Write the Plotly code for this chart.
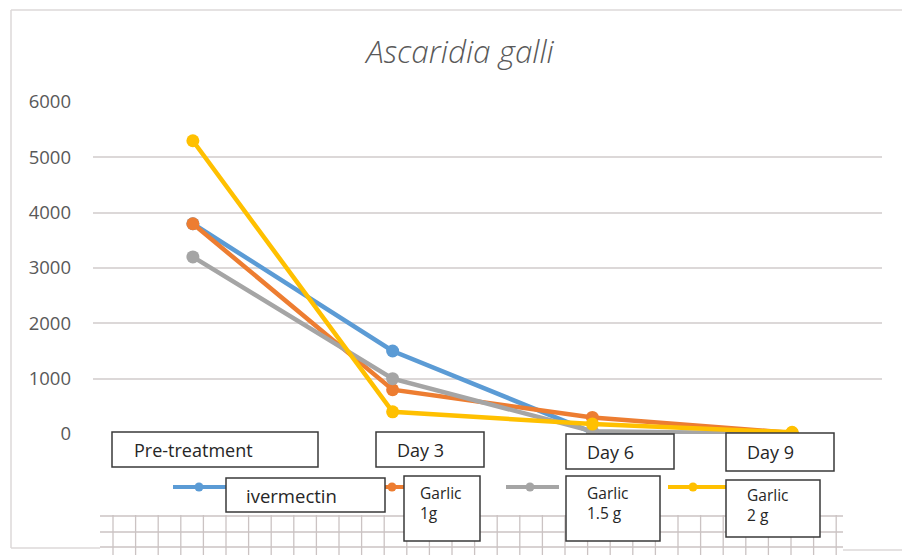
import plotly.graph_objects as go

# ---------------- data ----------------
categories = ["Pre-treatment", "Day 3", "Day 6", "Day 9"]
series_names = ["ivermectin", "Garlic 1g", "Garlic 1.5 g", "Garlic 2 g"]
ivermectin = [3800, 1500, 30, 0]
garlic_1g = [3800, 800, 300, 20]
garlic_1_5g = [3200, 1000, 50, 0]
garlic_2g = [5300, 400, 180, 30]
y_ticks = [0, 1000, 2000, 3000, 4000, 5000, 6000]
title_text = "Ascaridia galli"
legend_labels = ["ivermectin", "Garlic<br>1g", "Garlic<br>1.5 g", "Garlic<br>2 g"]

colors = ["#5B9BD5", "#ED7D31", "#A5A5A5", "#FFC000"]
values = [ivermectin, garlic_1g, garlic_1_5g, garlic_2g]

W, H = 902, 555
FONT = "Open Sans"


def px(x):
    return x / W


def py(y):
    return 1 - y / H


fig = go.Figure()
for name, vals, col in zip(series_names, values, colors):
    fig.add_trace(go.Scatter(
        x=categories, y=vals, name=name, mode="lines+markers",
        line=dict(color=col, width=4.5),
        marker=dict(color=col, size=13),
        showlegend=False, cliponaxis=False,
    ))

shapes = []
annotations = []

# outer chart frame (partial, as in reference)
frame_col = "#dcd8d8"
for (x0, y0, x1, y1) in [(11, 10, 11, 548), (11, 10, 902, 10), (11, 548, 100, 548), (843, 550, 902, 550)]:
    shapes.append(dict(type="line", xref="paper", yref="paper", x0=px(x0), x1=px(x1), y0=py(y0), y1=py(y1),
                       line=dict(color=frame_col, width=1.5)))

# decorative table grid at the bottom
grid_col = "#cbc3c3"
gx0, gx1, gy0, gy1 = 100, 843, 515, 555
for yy in [516, 532, 547]:
    shapes.append(dict(type="line", xref="paper", yref="paper", x0=px(gx0), x1=px(gx1), y0=py(yy), y1=py(yy),
                       line=dict(color=grid_col, width=1.3), layer="above"))
for i in range(33):
    xx = 113 + i * 22.6
    shapes.append(dict(type="line", xref="paper", yref="paper", x0=px(xx), x1=px(xx), y0=py(gy0), y1=py(gy1),
                       line=dict(color=grid_col, width=1.3), layer="above"))

# legend line samples
leg_y = 487
leg_segments = [(173, 226, 199), (385, 404, 392), (506, 559, 530), (668, 726, 693)]
for (a, b, m), col in zip(leg_segments, colors):
    shapes.append(dict(type="line", xref="paper", yref="paper", x0=px(a), x1=px(b), y0=py(leg_y), y1=py(leg_y),
                       line=dict(color=col, width=4), layer="above"))
    shapes.append(dict(type="circle", xref="paper", yref="paper", x0=px(m - 4.5), x1=px(m + 4.5),
                       y0=py(leg_y - 4.5), y1=py(leg_y + 4.5),
                       fillcolor=col, line=dict(color=col, width=0), layer="above"))

box_line = "#3a3a3a"

# category boxes: (x0, x1, y0, y1, text_x)
cat_boxes = [(112, 318, 432, 467, 132), (376, 484, 432, 467, 395),
             (566, 674, 434, 469, 585), (726, 834, 433, 471, 745)]
for (x0, x1, y0, y1, tx), label in zip(cat_boxes, categories):
    shapes.append(dict(type="rect", xref="paper", yref="paper", x0=px(x0), x1=px(x1), y0=py(y0), y1=py(y1),
                       fillcolor="white", line=dict(color=box_line, width=1.5), layer="above"))
    annotations.append(dict(xref="paper", yref="paper", x=px(tx), y=py((y0 + y1) / 2), text=label,
                            showarrow=False, xanchor="left", yanchor="middle",
                            font=dict(family=FONT, size=18, color="#262626")))

# legend boxes: (x0, x1, y0, y1, text_x, text centre y)
leg_boxes = [(226, 385, 478, 512, 244, 495), (404, 480, 476, 541, 418, 503),
             (566, 660, 476, 541, 585, 503), (726, 820, 480, 537, 745, 505)]
for (x0, x1, y0, y1, tx, ty), label in zip(leg_boxes, legend_labels):
    shapes.append(dict(type="rect", xref="paper", yref="paper", x0=px(x0), x1=px(x1), y0=py(y0), y1=py(y1),
                       fillcolor="white", line=dict(color=box_line, width=1.5), layer="above"))
    size = 18.5 if "<br>" not in label else 15.5
    annotations.append(dict(xref="paper", yref="paper", x=px(tx), y=py(ty), text=label,
                            showarrow=False, xanchor="left", yanchor="middle", align="left",
                            font=dict(family=FONT, size=size, color="#262626")))

fig.update_layout(
    width=W, height=H,
    margin=dict(l=0, r=0, t=0, b=0),
    paper_bgcolor="white", plot_bgcolor="white",
    title=dict(text=title_text, x=px(460), y=py(52), xanchor="center", yanchor="middle",
               font=dict(family=FONT, size=31.5, color="#595959", style="italic", weight=300)),
    xaxis=dict(domain=[px(93), px(882)], range=[-0.5, 3.45], type="category",
               showticklabels=False, showgrid=False, zeroline=False, showline=False, ticks=""),
    yaxis=dict(domain=[py(434), py(102)], range=[0, 6000], tickvals=y_ticks,
               showgrid=True, gridcolor="#dcd8d8", gridwidth=1.5, zeroline=False, showline=False,
               ticks="", ticklabelstandoff=21, automargin=False,
               tickfont=dict(family=FONT, size=18.5, color="#595959")),
    shapes=shapes, annotations=annotations,
    showlegend=False,
)

fig.write_html("out.html", config={"displayModeBar": False},
               post_script="document.body.style.margin='0px';")
